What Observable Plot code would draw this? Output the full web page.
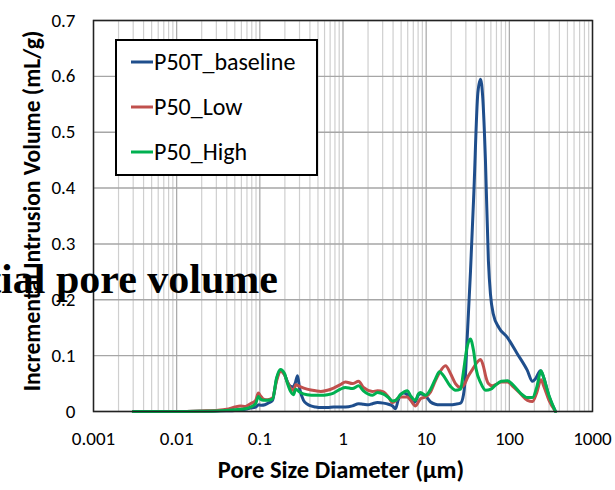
<!DOCTYPE html>
<html>
<head>
<meta charset="utf-8">
<script src="https://cdn.jsdelivr.net/npm/d3@7"></script>
<script src="https://cdn.jsdelivr.net/npm/@observablehq/plot@0.6"></script>
<style>
  body { margin: 0; background: #fff; }
  #chart { position: relative; width: 615px; height: 490px; overflow: hidden; }
</style>
</head>
<body>
<div id="chart"></div>
<script>
// Incremental mercury intrusion volume versus pore diameter, three samples
const seriesNames = ["P50T_baseline", "P50_Low", "P50_High"];
const seriesColors = ["#1f4e8c", "#c0504d", "#00b050"];

const baselineD = [0.003, 0.01, 0.02, 0.03, 0.05, 0.067, 0.077, 0.089, 0.097, 0.105, 0.115, 0.13, 0.142, 0.159, 0.177, 0.198, 0.215, 0.234, 0.252, 0.268, 0.284, 0.3, 0.335, 0.374, 0.41, 0.47, 0.54, 0.65, 0.77, 0.93, 1.07, 1.3, 1.54, 1.76, 2.02, 2.26, 2.6, 3.07, 3.52, 3.94, 4.28, 4.6, 4.91, 5.34, 5.96, 6.48, 7.0, 7.44, 8.09, 8.55, 9.82, 11.3, 12.9, 14.5, 17.1, 19.6, 22.5, 25.9, 28.1, 29.7, 31.1, 34.1, 37.4, 41.8, 45, 48, 51.6, 56, 59.3, 64, 75, 94, 124, 164, 190, 205, 237, 260, 300, 359];
const baselineV = [0, 0, 0.0005, 0.001, 0.002, 0.004, 0.006, 0.008, 0.012, 0.011, 0.012, 0.016, 0.02, 0.058, 0.073, 0.066, 0.053, 0.045, 0.044, 0.052, 0.064, 0.042, 0.02, 0.013, 0.01, 0.008, 0.007, 0.007, 0.008, 0.008, 0.008, 0.01, 0.014, 0.013, 0.012, 0.014, 0.016, 0.015, 0.013, 0.01, 0.005, 0.02, 0.03, 0.033, 0.03, 0.022, 0.016, 0.018, 0.03, 0.032, 0.028, 0.017, 0.013, 0.012, 0.012, 0.012, 0.013, 0.015, 0.03, 0.067, 0.13, 0.25, 0.39, 0.57, 0.595, 0.56, 0.45, 0.27, 0.21, 0.175, 0.15, 0.133, 0.104, 0.074, 0.054, 0.058, 0.073, 0.06, 0.027, 0];

const lowD = [0.003, 0.01, 0.02, 0.03, 0.04, 0.05, 0.058, 0.067, 0.077, 0.089, 0.096, 0.102, 0.111, 0.124, 0.142, 0.159, 0.177, 0.198, 0.215, 0.234, 0.254, 0.27, 0.3, 0.37, 0.47, 0.54, 0.65, 0.77, 0.93, 1.07, 1.3, 1.54, 1.76, 2.26, 2.6, 3.07, 3.52, 3.94, 4.91, 5.96, 6.5, 7.44, 8.55, 9.8, 11.3, 12.9, 14.5, 17.1, 19.6, 22.5, 25.9, 28, 32, 37, 42, 45, 49, 52, 56, 62, 68, 80, 95, 110, 136, 165, 190, 215, 240, 260, 300, 359];
const lowV = [0, 0, 0.001, 0.002, 0.004, 0.008, 0.01, 0.009, 0.014, 0.02, 0.033, 0.028, 0.022, 0.021, 0.024, 0.055, 0.072, 0.066, 0.052, 0.042, 0.037, 0.048, 0.045, 0.04, 0.037, 0.036, 0.038, 0.042, 0.048, 0.053, 0.05, 0.054, 0.043, 0.036, 0.037, 0.035, 0.026, 0.016, 0.026, 0.026, 0.02, 0.01, 0.023, 0.026, 0.035, 0.055, 0.07, 0.082, 0.068, 0.05, 0.043, 0.046, 0.063, 0.078, 0.09, 0.093, 0.08, 0.063, 0.05, 0.046, 0.048, 0.053, 0.053, 0.045, 0.032, 0.02, 0.018, 0.035, 0.057, 0.045, 0.02, 0];

const highD = [0.003, 0.01, 0.02, 0.03, 0.05, 0.067, 0.077, 0.089, 0.096, 0.102, 0.111, 0.124, 0.142, 0.159, 0.177, 0.198, 0.215, 0.234, 0.254, 0.27, 0.3, 0.37, 0.47, 0.54, 0.65, 0.77, 0.93, 1.07, 1.3, 1.54, 1.76, 2.26, 2.6, 3.07, 3.52, 3.94, 4.28, 4.91, 5.96, 6.5, 7.44, 8.09, 8.55, 9.8, 11.3, 12.9, 14.5, 16, 19.6, 22.5, 25.9, 28, 31, 34, 37, 40, 45, 52, 60, 68, 80, 95, 110, 136, 165, 190, 215, 240, 260, 290, 359];
const highV = [0, 0, 0.0005, 0.001, 0.003, 0.005, 0.008, 0.014, 0.027, 0.022, 0.02, 0.02, 0.022, 0.06, 0.075, 0.068, 0.05, 0.036, 0.03, 0.04, 0.035, 0.03, 0.029, 0.029, 0.03, 0.033, 0.04, 0.043, 0.041, 0.046, 0.037, 0.029, 0.034, 0.031, 0.025, 0.019, 0.02, 0.03, 0.037, 0.028, 0.02, 0.032, 0.034, 0.029, 0.04, 0.058, 0.071, 0.065, 0.045, 0.038, 0.04, 0.07, 0.115, 0.13, 0.11, 0.075, 0.052, 0.038, 0.04, 0.047, 0.054, 0.055, 0.048, 0.033, 0.025, 0.025, 0.045, 0.073, 0.06, 0.035, 0];

const xTicks = [0.001, 0.01, 0.1, 1, 10, 100, 1000];
const xTickLabels = ["0.001", "0.01", "0.1", "1", "10", "100", "1000"];
const yTicks = [0, 0.1, 0.2, 0.3, 0.4, 0.5, 0.6, 0.7];
const yTickLabels = ["0", "0.1", "0.2", "0.3", "0.4", "0.5", "0.6", "0.7"];

const xTitle = "Pore Size Diameter (\u00b5m)";
const yTitle = "Incremental Intrusion Volume (mL/g)";
const overlayTitle = "Differential pore volume";

// long table for the line mark
const seriesD = [baselineD, lowD, highD];
const seriesV = [baselineV, lowV, highV];
const rows = seriesNames.flatMap((name, s) =>
  seriesD[s].map((d, i) => ({series: name, d, v: seriesV[s][i]})));

// minor log gridlines at 2..9 within each decade
const minorX = xTicks.slice(0, -1).flatMap(t => [2, 3, 4, 5, 6, 7, 8, 9].map(m => t * m));

const FONT = "Carlito, Lato, 'Open Sans', sans-serif";

const chart = Plot.plot({
  width: 615,
  height: 490,
  marginLeft: 93,
  marginRight: 23,
  marginTop: 20,
  marginBottom: 79,
  style: {fontFamily: FONT, background: "#fff", color: "#000"},
  x: {type: "log", domain: [0.001, 1000]},
  y: {domain: [0, 0.7]},
  color: {domain: seriesNames, range: seriesColors},
  marks: [
    Plot.gridX(minorX, {stroke: "#cfcfcf", strokeOpacity: 1, strokeWidth: 1.2}),
    Plot.gridX(xTicks, {stroke: "#a6a6a6", strokeOpacity: 1, strokeWidth: 1.2}),
    Plot.gridY(yTicks, {stroke: "#a6a6a6", strokeOpacity: 1, strokeWidth: 1.4}),
    Plot.line(rows, {x: "d", y: "v", z: "series", stroke: "series", curve: "monotone-x", strokeWidth: 3}),
    Plot.frame({stroke: "#222", strokeWidth: 1.5}),
    Plot.axisX(xTicks, {tickSize: 0, tickPadding: 20, fontSize: 19, label: null,
      tickFormat: d => xTickLabels[xTicks.indexOf(d)]}),
    Plot.axisY(yTicks, {tickSize: 0, tickPadding: 18, fontSize: 19, label: null,
      tickFormat: d => yTickLabels[yTicks.indexOf(d)]})
  ]
});

document.getElementById("chart").appendChild(chart);

const svg = d3.select(chart);

// axis titles
svg.append("text")
  .attr("x", 341).attr("y", 478)
  .attr("text-anchor", "middle")
  .style("font-family", FONT).style("font-weight", "bold").style("font-size", "24.5px")
  .text(xTitle);

svg.append("text")
  .attr("transform", "translate(40,211) rotate(-90)")
  .attr("text-anchor", "middle")
  .style("font-family", FONT).style("font-weight", "bold").style("font-size", "23.5px")
  .text(yTitle);

// legend box inside the plot area
const legend = svg.append("g");
legend.append("rect")
  .attr("x", 116).attr("y", 40).attr("width", 201).attr("height", 135)
  .attr("fill", "#fff").attr("stroke", "#000").attr("stroke-width", 2);
seriesNames.forEach((name, i) => {
  const cy = 62 + i * 45;
  legend.append("line")
    .attr("x1", 131).attr("x2", 153).attr("y1", cy).attr("y2", cy)
    .attr("stroke", seriesColors[i]).attr("stroke-width", 3);
  legend.append("text")
    .attr("x", 154).attr("y", cy).attr("dy", "0.35em")
    .attr("text-anchor", "start")
    .style("font-family", FONT).style("font-size", "24px")
    .text(name);
});

// large title text laid over the chart
svg.append("text")
  .attr("x", 278).attr("y", 293)
  .attr("text-anchor", "end")
  .style("font-family", "'Liberation Serif', 'DejaVu Serif', serif")
  .style("font-weight", "bold").style("font-size", "42px")
  .text(overlayTitle);
</script>
</body>
</html>
